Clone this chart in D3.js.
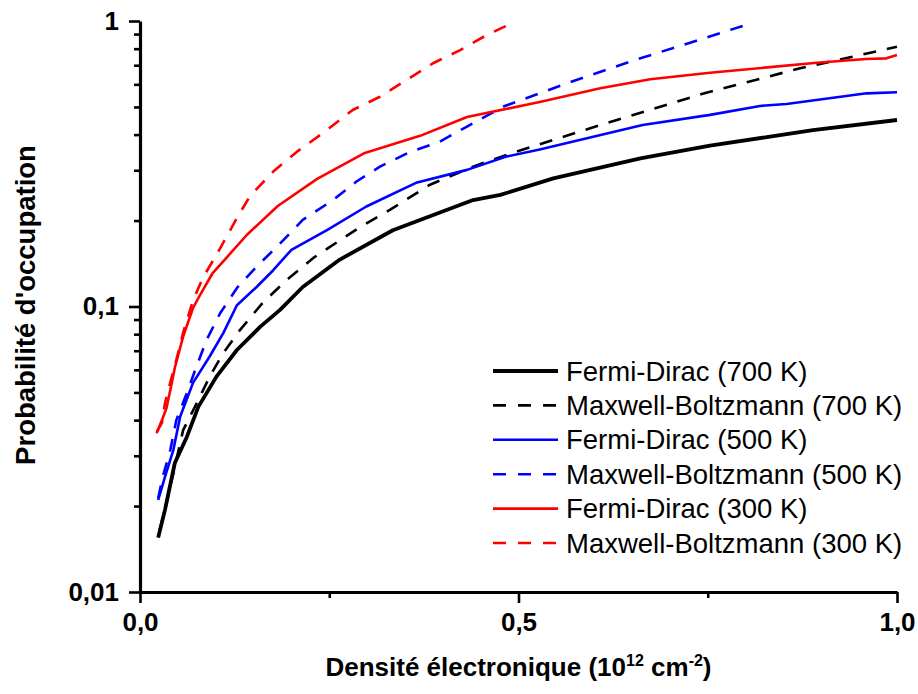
<!DOCTYPE html>
<html><head><meta charset="utf-8">
<script src="https://cdn.jsdelivr.net/npm/d3@7"></script>
<style>
html,body{margin:0;padding:0;background:#fff;}
svg{display:block;}
text{font-family:"Liberation Sans",Arial,sans-serif;fill:#000;}
</style></head>
<body>
<svg id="chart" width="918" height="694"></svg>
<script>
// ---- data (x in 10^12 cm^-2, y = occupation probability) ----
const fd700 = [[0.024,0.0155],[0.033,0.0194],[0.046,0.0283],[0.062,0.035],[0.077,0.0445],[0.101,0.0568],[0.128,0.0704],[0.159,0.085],[0.185,0.0973],[0.215,0.117],[0.264,0.146],[0.334,0.185],[0.440,0.236],[0.476,0.246],[0.546,0.281],[0.661,0.330],[0.753,0.366],[0.828,0.392],[0.889,0.415],[1.0,0.450]];
const mb700 = [[0.026,0.0165],[0.035,0.0205],[0.057,0.0369],[0.075,0.0459],[0.092,0.0568],[0.110,0.0687],[0.132,0.0827],[0.162,0.103],[0.194,0.124],[0.229,0.148],[0.291,0.190],[0.330,0.218],[0.383,0.267],[0.440,0.309],[0.493,0.346],[0.608,0.432],[0.742,0.555],[0.872,0.683],[0.938,0.746],[1.0,0.813]];
const fd500 = [[0.024,0.0210],[0.033,0.0253],[0.044,0.0314],[0.053,0.0411],[0.070,0.0540],[0.092,0.0668],[0.110,0.0807],[0.128,0.101],[0.154,0.117],[0.176,0.134],[0.200,0.158],[0.247,0.185],[0.299,0.224],[0.366,0.272],[0.432,0.301],[0.484,0.335],[0.528,0.355],[0.664,0.432],[0.753,0.469],[0.819,0.504],[0.854,0.512],[0.960,0.558],[1.0,0.563]];
const mb500 = [[0.024,0.0213],[0.030,0.0253],[0.040,0.0314],[0.048,0.040],[0.062,0.0498],[0.073,0.060],[0.088,0.0764],[0.106,0.0949],[0.129,0.117],[0.154,0.138],[0.181,0.162],[0.215,0.201],[0.255,0.236],[0.286,0.274],[0.317,0.309],[0.357,0.348],[0.396,0.378],[0.432,0.427],[0.482,0.504],[0.564,0.605],[0.651,0.726],[0.735,0.853],[0.804,0.976]];
const fd300 = [[0.022,0.0360],[0.029,0.040],[0.035,0.0441],[0.042,0.054],[0.046,0.061],[0.057,0.0784],[0.070,0.0988],[0.077,0.107],[0.096,0.131],[0.115,0.149],[0.141,0.178],[0.182,0.225],[0.234,0.280],[0.297,0.345],[0.370,0.396],[0.432,0.461],[0.528,0.520],[0.608,0.581],[0.674,0.625],[0.753,0.659],[0.894,0.714],[0.959,0.736],[0.986,0.740],[1.0,0.760]];
const mb300 = [[0.022,0.0364],[0.029,0.0391],[0.033,0.0459],[0.042,0.0568],[0.048,0.065],[0.058,0.0828],[0.070,0.105],[0.083,0.126],[0.103,0.155],[0.128,0.204],[0.145,0.243],[0.176,0.297],[0.207,0.348],[0.247,0.415],[0.281,0.488],[0.317,0.543],[0.352,0.621],[0.387,0.711],[0.423,0.791],[0.458,0.893],[0.491,0.982]];

const seriesNames = ["Fermi-Dirac (700 K)","Maxwell-Boltzmann (700 K)","Fermi-Dirac (500 K)","Maxwell-Boltzmann (500 K)","Fermi-Dirac (300 K)","Maxwell-Boltzmann (300 K)"];
const seriesData = [fd700, mb700, fd500, mb500, fd300, mb300];
const seriesColors = ["#000000","#000000","#0000ff","#0000ff","#ff0000","#ff0000"];
const seriesDashed = [false,true,false,true,false,true];
const seriesWidths = [3.8,2.6,2.6,2.6,2.6,2.6];

const xMajorTicks = [0, 0.5, 1.0];
const xMinorTicks = [0.25, 0.75];
const yMajorTicks = [0.01, 0.1, 1];
const yMinorTicks = [0.02,0.03,0.04,0.05,0.06,0.07,0.08,0.09,0.2,0.3,0.4,0.5,0.6,0.7,0.8,0.9];

const xTitle = "Densité électronique";
const yTitle = "Probabilité d'occupation";

// ---- layout ----
const svg = d3.select("#chart");
const L = 140, R = 897, T = 21, B = 592;
const x = d3.scaleLinear().domain([0,1]).range([L,R]);
const y = d3.scaleLog().domain([0.01,1]).range([B,T]);

const fmt = d => String(d).replace(".", ",");
const xFmt = d => d3.format(".1f")(d).replace(".", ",");

svg.append("defs").append("clipPath").attr("id","clip")
  .append("rect").attr("x",L).attr("y",T-2).attr("width",R-L+4).attr("height",B-T+2);

// lines
const line = d3.line().x(d=>x(d[0])).y(d=>y(d[1]));
const gLines = svg.append("g").attr("clip-path","url(#clip)");
seriesData.forEach((s,i)=>{
  gLines.append("path").datum(s).attr("d",line)
    .attr("fill","none").attr("stroke",seriesColors[i])
    .attr("stroke-width",seriesWidths[i])
    .attr("stroke-linejoin","round")
    .attr("stroke-dasharray",seriesDashed[i]?"13,11":null);
});

// axes
const axisStyle = g => {
  g.select(".domain").attr("stroke","#000").attr("stroke-width",3.2);
  g.selectAll(".tick line").attr("stroke","#000").attr("stroke-width",2.6);
};
const xAx = svg.append("g").attr("transform",`translate(0,${B})`)
  .call(d3.axisBottom(x).tickValues(xMajorTicks).tickFormat(xFmt).tickSize(11).tickSizeOuter(0).tickPadding(10));
axisStyle(xAx);
xAx.selectAll("text").attr("font-size",26).attr("font-weight","bold").attr("fill","#000");
const xAxMin = svg.append("g").attr("transform",`translate(0,${B})`)
  .call(d3.axisBottom(x).tickValues(xMinorTicks).tickFormat("").tickSize(6).tickSizeOuter(0));
axisStyle(xAxMin); xAxMin.select(".domain").remove();

const yAx = svg.append("g").attr("transform",`translate(${L},0)`)
  .call(d3.axisLeft(y).tickValues(yMajorTicks).tickFormat(fmt).tickSize(11).tickSizeOuter(0).tickPadding(10));
axisStyle(yAx);
yAx.selectAll("text").attr("font-size",26).attr("font-weight","bold").attr("fill","#000");
const yAxMin = svg.append("g").attr("transform",`translate(${L},0)`)
  .call(d3.axisLeft(y).tickValues(yMinorTicks).tickFormat("").tickSize(6).tickSizeOuter(0));
axisStyle(yAxMin); yAxMin.select(".domain").remove();

// axis titles
const xt = svg.append("text").attr("x",(L+R)/2).attr("y",676).attr("text-anchor","middle")
  .attr("font-size",26).attr("font-weight","bold");
xt.append("tspan").text(xTitle + " (10");
xt.append("tspan").attr("font-size",16).attr("dy",-10).text("12");
xt.append("tspan").attr("dy",10).text(" cm");
xt.append("tspan").attr("font-size",16).attr("dy",-10).text("-2");
xt.append("tspan").attr("dy",10).text(")");

svg.append("text").attr("transform",`translate(35,305) rotate(-90)`)
  .attr("text-anchor","middle").attr("font-size",27.5).attr("font-weight","bold").text(yTitle);

// legend
const lg = svg.append("g").attr("transform","translate(493,371)");
seriesNames.forEach((n,i)=>{
  const row = lg.append("g").attr("transform",`translate(0,${i*34.4})`);
  row.append("line").attr("x1",0).attr("x2",65).attr("y1",0).attr("y2",0)
    .attr("stroke",seriesColors[i]).attr("stroke-width",seriesWidths[i])
    .attr("stroke-dasharray",seriesDashed[i]?"13,12":null);
  row.append("text").attr("x",73).attr("y",9.5).attr("font-size",27.5).text(n);
});
</script>
</body></html>
